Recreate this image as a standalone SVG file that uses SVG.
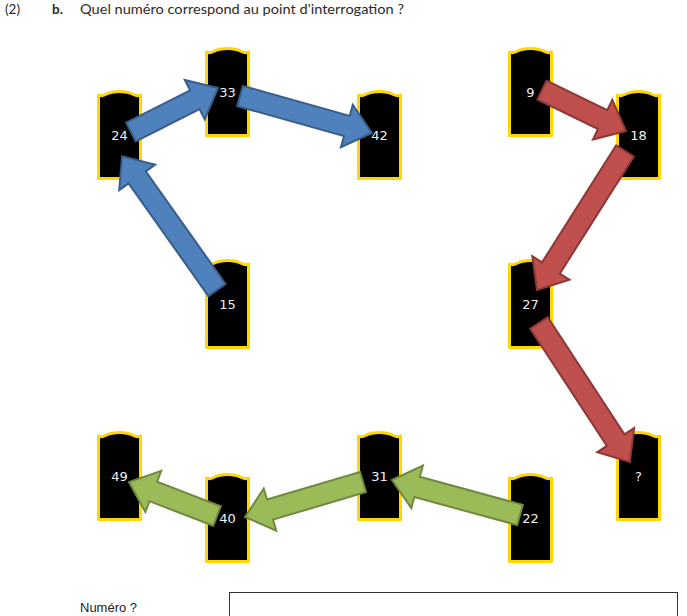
<svg xmlns="http://www.w3.org/2000/svg" xmlns:xlink="http://www.w3.org/1999/xlink" width="687" height="616" viewBox="0 0 687 616">
<style>
.pil{fill:#000;stroke:#FFD700;stroke-width:3;stroke-linejoin:round}
.lbl{font-family:"DejaVu Sans",sans-serif;font-size:13px;fill:#f0f0f0;text-anchor:middle}
.blue{fill:#4F81BD;stroke:#385D8A;stroke-width:2;stroke-linejoin:miter}
.red{fill:#C0504D;stroke:#8C3836;stroke-width:2}
.green{fill:#9BBB59;stroke:#71893F;stroke-width:2}
.hdr{font-family:Lato,"Open Sans",sans-serif;font-size:13.5px;fill:#2a2a2a}
</style>
<defs>
<path id="pillar" class="pil" d="M0,88 L0,4.5 Q3,6 7,4 C15,0 27,0 35,4 Q39,6 42,4.5 L42,88 Z"/>
</defs>
<rect width="687" height="616" fill="#fff"/>
<text class="hdr" x="5" y="14">(2)</text>
<text class="hdr" x="52" y="14" font-weight="bold">b.</text>
<text class="hdr" x="80" y="14" textLength="324" lengthAdjust="spacingAndGlyphs">Quel numéro correspond au point d'interrogation ?</text>

<g id="n24"><use xlink:href="#pillar" x="98.5" y="90.5"/><text class="lbl" x="119.5" y="139.5">24</text></g>
<g id="n33"><use xlink:href="#pillar" x="206.5" y="47.5"/><text class="lbl" x="227.5" y="96.5">33</text></g>
<g id="n42"><use xlink:href="#pillar" x="358.5" y="90.5"/><text class="lbl" x="379.5" y="139.5">42</text></g>
<g id="n15"><use xlink:href="#pillar" x="206.5" y="259.5"/><text class="lbl" x="227.5" y="308.5">15</text></g>
<g id="n9"><use xlink:href="#pillar" x="509.5" y="47.5"/><text class="lbl" x="530.5" y="96.5">9</text></g>
<g id="n18"><use xlink:href="#pillar" x="617.5" y="90.5"/><text class="lbl" x="638.5" y="139.5">18</text></g>
<g id="n27"><use xlink:href="#pillar" x="509.5" y="259.5"/><text class="lbl" x="530.5" y="308.5">27</text></g>
<g id="nq"><use xlink:href="#pillar" x="617.5" y="431.5"/><text class="lbl" x="638.5" y="480.5">?</text></g>
<g id="n49"><use xlink:href="#pillar" x="98.5" y="431.5"/><text class="lbl" x="119.5" y="480.5">49</text></g>
<g id="n40"><use xlink:href="#pillar" x="206.5" y="473.5"/><text class="lbl" x="227.5" y="522.5">40</text></g>
<g id="n31"><use xlink:href="#pillar" x="358.5" y="431.5"/><text class="lbl" x="379.5" y="480.5">31</text></g>
<g id="n22"><use xlink:href="#pillar" x="509.5" y="473.5"/><text class="lbl" x="530.5" y="522.5">22</text></g>

<g id="connectors">
<polygon class="blue" transform="translate(217,290) rotate(-125.34)" points="0,-10.5 138,-10.5 138,-22 164,0 138,22 138,10.5 0,10.5"/>
<polygon class="blue" transform="translate(131,132) rotate(-26.83)" points="0,-10.5 71.5,-10.5 71.5,-22 97.5,0 71.5,22 71.5,10.5 0,10.5"/>
<polygon class="blue" transform="translate(240,96) rotate(15.66)" points="0,-10.5 111,-10.5 111,-22 137,0 111,22 111,10.5 0,10.5"/>
<polygon class="red" transform="translate(542,90) rotate(26.02)" points="0,-10.5 67.5,-10.5 67.5,-22 93.5,0 67.5,22 67.5,10.5 0,10.5"/>
<polygon class="red" transform="translate(625,151) rotate(122.34)" points="0,-10.5 138.5,-10.5 138.5,-22 164.5,0 138.5,22 138.5,10.5 0,10.5"/>
<polygon class="red" transform="translate(539,323) rotate(56.79)" points="0,-10.5 140,-10.5 140,-22 166,0 140,22 140,10.5 0,10.5"/>
<polygon class="green" transform="translate(520,515) rotate(-164.71)" points="0,-10.5 106.7,-10.5 106.7,-22 132.7,0 106.7,22 106.7,10.5 0,10.5"/>
<polygon class="green" transform="translate(363,482) rotate(163.48)" points="0,-10.5 97,-10.5 97,-22 123,0 97,22 97,10.5 0,10.5"/>
<polygon class="green" transform="translate(217,516) rotate(-158.88)" points="0,-10.5 68.3,-10.5 68.3,-22 94.3,0 68.3,22 68.3,10.5 0,10.5"/>
</g>

<text x="80" y="612" font-family="Liberation Sans,Arial,sans-serif" font-size="13" fill="#222">Numéro ?</text>
<rect x="229.5" y="592.5" width="448" height="24" fill="#fff" stroke="#333" stroke-width="1"/>
</svg>
